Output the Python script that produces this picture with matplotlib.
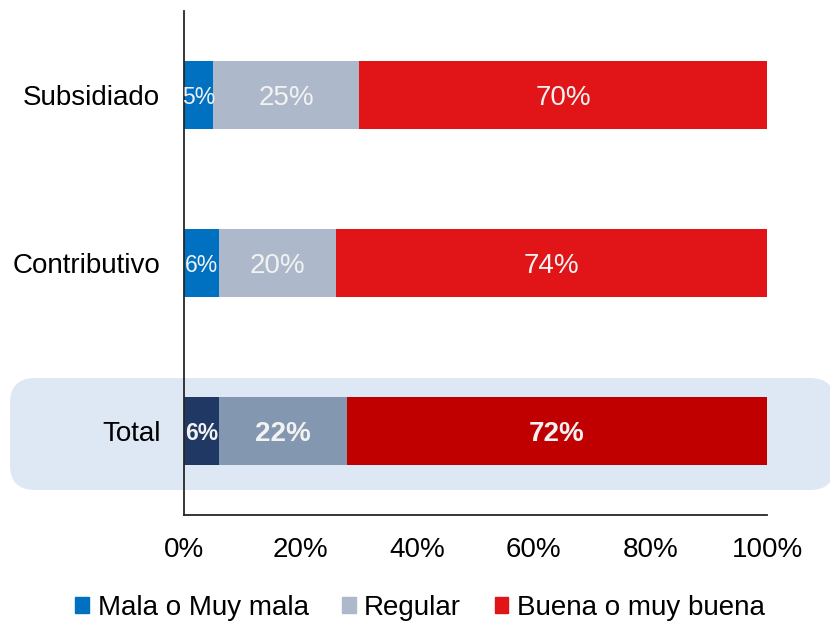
import numpy as np
import matplotlib
matplotlib.use("Agg")
import matplotlib.pyplot as plt
from matplotlib.patches import FancyBboxPatch, Patch

plt.rcParams['font.family'] = ['Liberation Sans', 'DejaVu Sans']

# data
categories = ["Total", "Contributivo", "Subsidiado"]
mala = [6, 6, 5]
regular = [22, 20, 25]
buena = [72, 74, 70]
series_names = ["Mala o Muy mala", "Regular", "Buena o muy buena"]

colors = ["#0070C0", "#ADB9CA", "#E11518"]
colors_total = ["#203864", "#8497B0", "#C00000"]

W, H = 830, 621
fig = plt.figure(figsize=(W / 100, H / 100), dpi=100)
ax = fig.add_axes([184 / W, 1 - 515 / H, (767 - 184) / W, (515 - 11) / H])
ax.set_facecolor("none")
ax.set_zorder(2)

# highlight box behind Total row
box = FancyBboxPatch((10 / W, 1 - 490 / H), (835 - 10) / W, (490 - 378) / H,
                     boxstyle="round,pad=0,rounding_size=0.03",
                     transform=fig.transFigure, facecolor="#DEE8F4",
                     edgecolor="none", zorder=-1, mutation_aspect=W / H)
fig.patches.append(box)

y = np.arange(len(categories))
data = [mala, regular, buena]
left = np.zeros(len(categories))
for j, vals in enumerate(data):
    vals = np.array(vals)
    cols = [colors_total[j] if c == "Total" else colors[j] for c in categories]
    ax.barh(y, vals, left=left, height=0.4, color=cols, zorder=2)
    for i, v in enumerate(vals):
        bold = categories[i] == "Total"
        ax.text(left[i] + v / 2, y[i], f"{v}%", ha="center", va="center_baseline",
                color="#F2F2F2", fontsize=20 if v > 7 else 16.5,
                fontweight="bold" if bold else "normal", zorder=3)
    left += vals

ax.set_xlim(0, 100)
ax.set_ylim(-0.5, 2.5)
ax.set_yticks(y)
ax.set_yticklabels(categories, fontsize=20)
ax.set_xticks(np.arange(0, 101, 20))
ax.set_xticklabels([f"{t}%" for t in range(0, 101, 20)], fontsize=20)
ax.tick_params(axis="x", length=0, pad=16)
ax.tick_params(axis="y", length=0, pad=17)
for s in ["top", "right"]:
    ax.spines[s].set_visible(False)
for s in ["left", "bottom"]:
    ax.spines[s].set_color("#262626")
    ax.spines[s].set_linewidth(1.3)

handles = [Patch(color=c) for c in colors]
fig.legend(handles, series_names, loc="center", bbox_to_anchor=(420 / W, 1 - 608 / H),
           ncol=3, frameon=False, fontsize=20, handlelength=0.5, handleheight=0.5,
           handletextpad=0.3, columnspacing=1.2, borderpad=0)

fig.savefig("out.png", dpi=100)
